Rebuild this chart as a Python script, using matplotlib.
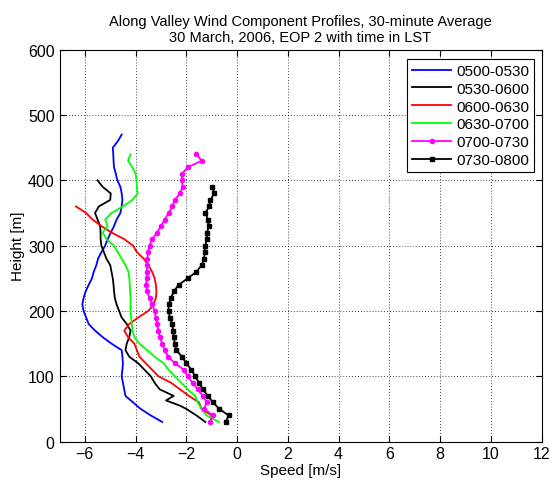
import numpy as np
import matplotlib
matplotlib.use('Agg')
import matplotlib.pyplot as plt

plt.rcParams['font.family'] = ['Liberation Sans', 'DejaVu Sans']

# Alturas [m] y velocidades [m/s]
h_0500 = np.arange(30, 480, 10)
v_0500 = [-2.95, -3.4, -3.8, -4.1, -4.4, -4.45, -4.5, -4.55, -4.52, -4.5,
          -4.52, -4.55, -4.95, -5.3, -5.6, -5.85, -5.95, -6.05, -6.1, -6.05,
          -5.97, -5.85, -5.72, -5.65, -5.55, -5.48, -5.35, -5.2, -5.1, -4.98,
          -4.85, -4.75, -4.6, -4.55, -4.52, -4.55, -4.6, -4.72, -4.78, -4.85,
          -4.87, -4.88, -4.9, -4.7, -4.55]

h_0530 = [30, 40, 50, 55, 63, 70, 80, 90, 100, 110, 120, 130, 140, 150, 160,
          170, 180, 190, 200, 210, 220, 230, 240, 250, 260, 270, 280, 290, 300,
          310, 320, 330, 340, 350, 360, 370, 380, 390, 400]
v_0530 = [-1.25, -1.6, -2.0, -2.25, -2.8, -2.5, -3.05, -3.25, -3.4, -3.65,
          -3.9, -4.25, -4.4, -4.35, -4.25, -4.2, -4.35, -4.55, -4.65, -4.75,
          -4.82, -4.85, -4.87, -4.9, -4.95, -5.0, -5.15, -5.25, -5.35, -5.38,
          -5.38, -5.4, -5.5, -5.6, -5.45, -5.0, -4.98, -5.3, -5.5]

h_0600 = np.arange(30, 370, 10)
v_0600 = [-1.05, -1.0, -1.4, -1.5, -1.9, -2.25, -2.6, -3.1, -3.35, -3.6,
          -3.85, -3.95, -4.05, -4.3, -4.45, -4.25, -3.9, -3.5, -3.3, -3.2,
          -3.18, -3.2, -3.25, -3.35, -3.5, -3.68, -3.95, -4.1, -4.45, -4.95,
          -5.35, -5.7, -5.95, -6.35]

h_0630 = np.arange(30, 450, 10)
v_0630 = [-0.72, -1.2, -1.4, -1.55, -1.65, -1.95, -2.2, -2.45, -2.7, -2.9,
          -3.25, -3.55, -3.85, -4.05, -4.13, -4.15, -4.18, -4.2, -4.2, -4.2,
          -4.22, -4.23, -4.25, -4.28, -4.4, -4.55, -4.7, -4.86, -5.15, -5.3,
          -5.1, -5.2, -4.95, -4.5, -4.13, -3.92, -3.95, -3.97, -4.0, -4.13,
          -4.3, -4.2]

h_0700 = np.arange(30, 450, 10)
v_0700 = [-1.05, -0.95, -1.3, -1.2, -1.35, -1.55, -1.75, -1.95, -2.1, -2.45,
          -2.72, -2.85, -2.95, -3.05, -3.1, -3.15, -3.2, -3.25, -3.35, -3.45,
          -3.55, -3.58, -3.57, -3.56, -3.55, -3.54, -3.5, -3.45, -3.35, -3.15,
          -3.0, -2.85, -2.7, -2.55, -2.45, -2.25, -2.15, -2.17, -2.17, -1.95,
          -1.4, -1.6]

h_0730 = np.arange(30, 400, 10)
v_0730 = [-0.45, -0.33, -0.7, -0.95, -1.15, -1.35, -1.5, -1.65, -1.8, -2.0,
          -2.17, -2.4, -2.45, -2.5, -2.52, -2.56, -2.65, -2.7, -2.7, -2.6,
          -2.5, -2.3, -1.95, -1.6, -1.4, -1.3, -1.28, -1.25, -1.2, -1.18,
          -1.12, -1.15, -1.25, -1.1, -1.05, -0.9, -0.98]

labels = ['0500-0530', '0530-0600', '0600-0630', '0630-0700', '0700-0730', '0730-0800']

fig = plt.figure(figsize=(5.52, 4.85), dpi=100)
ax = fig.add_axes([0.1078, 0.0874, 0.8732, 0.8081])

lw = 1.3
ax.plot(v_0500, h_0500, color='#0000ff', lw=lw, label=labels[0])
ax.plot(v_0530, h_0530, color='k', lw=lw, label=labels[1])
ax.plot(v_0600, h_0600, color='#ff0000', lw=lw, label=labels[2])
ax.plot(v_0630, h_0630, color='#00ff00', lw=lw, label=labels[3])
ax.plot(v_0700, h_0700, color='#ff00ff', lw=lw, marker='o', ms=3.0, label=labels[4])
ax.plot(v_0730, h_0730, color='k', lw=lw, marker='s', ms=3.2, label=labels[5])

ax.set_xlim(-7, 12)
ax.set_ylim(0, 600)
ax.set_xticks(np.arange(-6, 13, 2))
ax.set_yticks(np.arange(0, 601, 100))
ax.grid(True, color='k', linestyle=(0, (1, 2.5)), linewidth=0.6)
ax.tick_params(direction='in', top=True, right=True, labelsize=11.5, length=4)
for s in ax.spines.values():
    s.set_linewidth(0.8)

ax.set_xlabel('Speed [m/s]', fontsize=11, labelpad=1)
ax.set_ylabel('Height [m]', fontsize=11, labelpad=2)
ax.set_title('Along Valley Wind Component Profiles, 30-minute Average\n'
             '30 March, 2006, EOP 2 with time in LST', fontsize=10.5, pad=6)

leg = ax.legend(loc='upper right', bbox_to_anchor=(0.9835, 0.9755), fontsize=11,
                frameon=True, fancybox=False, edgecolor='k', framealpha=1,
                handlelength=2.6, handletextpad=0.3, labelspacing=0.25,
                borderpad=0.3, borderaxespad=0)
leg.get_frame().set_linewidth(0.8)

plt.savefig('out.png', dpi=100)
